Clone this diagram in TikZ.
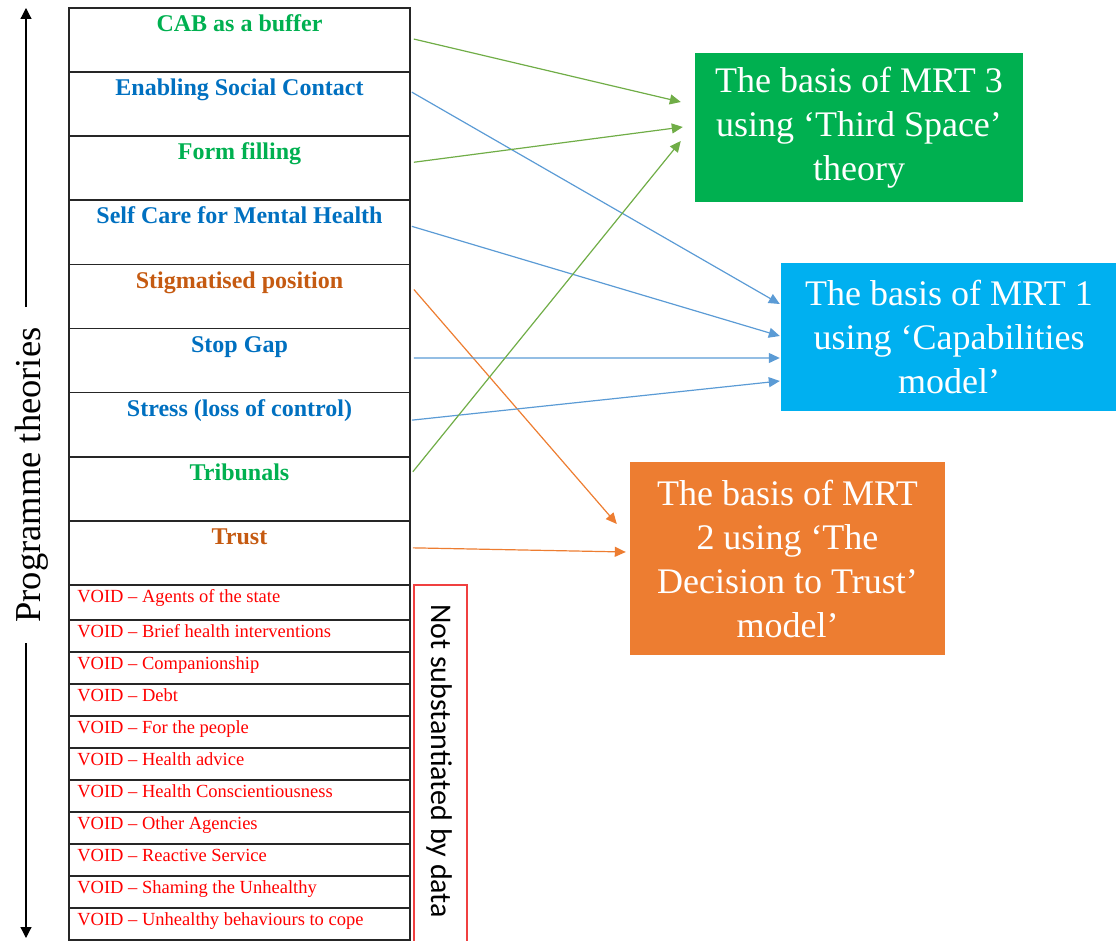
\documentclass[tikz,border=0pt]{standalone}
\usepackage{fontspec}
\setmainfont{Liberation Serif}
\newfontfamily\carlito{Carlito}
\usetikzlibrary{arrows.meta,calc}
\definecolor{tgreen}{HTML}{00B050}
\definecolor{tblue}{HTML}{0070C0}
\definecolor{tbrown}{HTML}{C55A11}
\definecolor{vred}{HTML}{FF0000}
\definecolor{agreen}{HTML}{70AD47}
\definecolor{ablue}{HTML}{5B9BD5}
\definecolor{aorange}{HTML}{ED7D31}
\definecolor{bgreen}{HTML}{00B050}
\definecolor{bblue}{HTML}{00B0F0}
\definecolor{borange}{HTML}{ED7D31}
\definecolor{nsred}{HTML}{F04040}
\begin{document}
\begin{tikzpicture}[x=1pt,y=-1pt,
  row/.style={draw=black!85, line width=1.7pt, minimum width=341pt, inner sep=0pt},
  theory/.style={row, minimum height=64.1pt},
  vrow/.style={row, minimum height=32pt},
  thtext/.style={font=\bfseries\fontsize{24}{28}\selectfont, anchor=base, inner sep=0pt},
  vtext/.style={font=\fontsize{18.5}{22}\selectfont, text=vred, anchor=base west, inner sep=0pt},
  mrt/.style={inner sep=0pt, text=white, align=center, font=\fontsize{36}{44}\selectfont},
  link/.style={line width=1.2pt, -{Triangle[length=11pt,width=10pt]}},
  axis/.style={line width=1.2pt, -{Triangle[length=11pt,width=11pt]}},
]
\useasboundingbox (0,0) rectangle (1116,941);

% theory rows
\node[theory] (t1) at (239.5,40.05) {};
\node[theory] (t2) at (239.5,104.15) {};
\node[theory] (t3) at (239.5,168.25) {};
\node[theory] (t4) at (239.5,232.35) {};
\node[theory] (t5) at (239.5,296.45) {};
\node[theory] (t6) at (239.5,360.55) {};
\node[theory] (t7) at (239.5,424.65) {};
\node[theory] (t8) at (239.5,488.75) {};
\node[theory] (t9) at (239.5,552.85) {};

\node[thtext, text=tgreen] (l1) at ($(t1.north)+(0,24)$) {CAB as a buffer};
\node[thtext, text=tblue] (l2) at ($(t2.north)+(0,24.5)$) {Enabling Social Contact};
\node[thtext, text=tgreen] (l3) at ($(t3.north)+(0,24.5)$) {Form filling};
\node[thtext, text=tblue] (l4) at ($(t4.north)+(0,24.5)$) {Self Care for Mental Health};
\node[thtext, text=tbrown] (l5) at ($(t5.north)+(0,24.5)$) {Stigmatised position};
\node[thtext, text=tblue] (l6) at ($(t6.north)+(0,24.5)$) {Stop Gap};
\node[thtext, text=tblue] (l7) at ($(t7.north)+(0,24.5)$) {Stress (loss of control)};
\node[thtext, text=tgreen] (l8) at ($(t8.north)+(0,24.5)$) {Tribunals};
\node[thtext, text=tbrown] (l9) at ($(t9.north)+(0,24.5)$) {Trust};

% void rows
\node[row, minimum height=35pt] (v1) at (239.5,602.5) {};
\node[vrow] (v2) at (239.5,636) {};
\node[vrow] (v3) at (239.5,668) {};
\node[vrow] (v4) at (239.5,700) {};
\node[vrow] (v5) at (239.5,732) {};
\node[vrow] (v6) at (239.5,764) {};
\node[vrow] (v7) at (239.5,796) {};
\node[vrow] (v8) at (239.5,828) {};
\node[vrow] (v9) at (239.5,860) {};
\node[vrow] (v10) at (239.5,892) {};
\node[vrow] (v11) at (239.5,924) {};

\node[vtext] (w1) at ($(v1.north west)+(9,18)$) {VOID – Agents of the state};
\node[vtext] (w2) at ($(v2.north west)+(9,18)$) {VOID – Brief health interventions};
\node[vtext] (w3) at ($(v3.north west)+(9,18)$) {VOID – Companionship};
\node[vtext] (w4) at ($(v4.north west)+(9,18)$) {VOID – Debt};
\node[vtext] (w5) at ($(v5.north west)+(9,18)$) {VOID – For the people};
\node[vtext] (w6) at ($(v6.north west)+(9,18)$) {VOID – Health advice};
\node[vtext] (w7) at ($(v7.north west)+(9,18)$) {VOID – Health Conscientiousness};
\node[vtext] (w8) at ($(v8.north west)+(9,18)$) {VOID – Other Agencies};
\node[vtext] (w9) at ($(v9.north west)+(9,18)$) {VOID – Reactive Service};
\node[vtext] (w10) at ($(v10.north west)+(9,18)$) {VOID – Shaming the Unhealthy};
\node[vtext] (w11) at ($(v11.north west)+(9,18)$) {VOID – Unhealthy behaviours to cope};

% not substantiated box
\node[draw=nsred, line width=1.3pt, minimum width=53pt, minimum height=370pt, inner sep=0pt] (nsbox) at (440.5,770) {};
\node[rotate=-90, inner sep=0pt, font=\carlito\fontsize{30}{34}\selectfont] (nstext) at (439,761) {Not substantiated by data};

% programme theories axis
\node[rotate=90, inner sep=0pt, font=\fontsize{36.5}{40}\selectfont] (pt) at (32,475) {Programme theories};
\coordinate (ltop) at (26,307);
\coordinate (atop) at (26,8);
\coordinate (lbot) at (26,643);
\coordinate (abot) at (26,938);
\draw[axis] (ltop) -- (atop);
\draw[axis] (lbot) -- (abot);

% MRT boxes
\node[mrt, fill=bgreen, minimum width=328pt, minimum height=149pt] (m3) at (859,127.5) {The basis of MRT 3\\using ‘Third Space’\\theory};
\node[mrt, fill=bblue, minimum width=336pt, minimum height=148pt] (m1) at (949,337) {The basis of MRT 1\\using ‘Capabilities\\model’};
\node[mrt, fill=borange, minimum width=315pt, minimum height=193pt] (m2) at (787.5,558.5) {The basis of MRT\\2 using ‘The\\Decision to Trust’\\model’};

% links
\draw[link, agreen] ($(t1.east)+(3,-1)$) -- ($(m3.west)+(-14,-25.5)$);
\draw[link, ablue] ($(t2.east)+(1,-12)$) -- ($(m1.west)+(-1,-33)$);
\draw[link, agreen] ($(t3.east)+(3,-6)$) -- ($(m3.west)+(-12,-0.5)$);
\draw[link, ablue] ($(t4.east)+(1,-6)$) -- ($(m1.west)+(-1,-1)$);
\draw[link, aorange] ($(t5.east)+(3,-7)$) -- ($(m2.west)+(-13,-34.5)$);
\draw[link, ablue] ($(t6.east)+(3,-2.5)$) -- ($(m1.west)+(-1,21)$);
\draw[link, ablue] ($(t7.east)+(1,-4.5)$) -- ($(m1.west)+(-1,44)$);
\draw[link, agreen] ($(t8.east)+(2,-17)$) -- ($(m3.west)+(-14,13.5)$);
\draw[link, aorange] ($(t9.east)+(2,-5)$) -- ($(m2.west)+(-4,-6.5)$);
\end{tikzpicture}
\end{document}
